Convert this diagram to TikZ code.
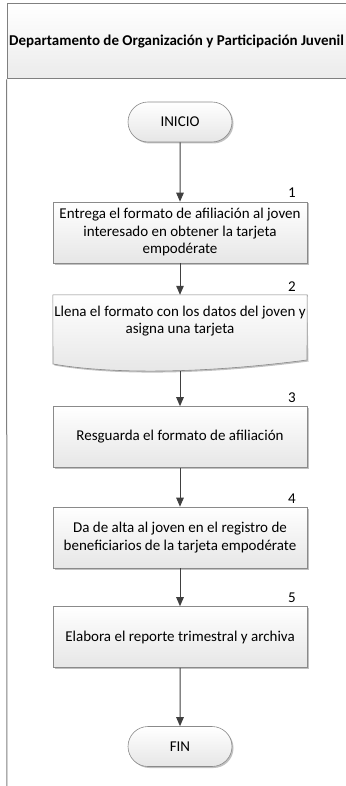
\documentclass[tikz,border=0pt]{standalone}
\usepackage{fontspec}
\setmainfont{Carlito}
\usetikzlibrary{shadows,arrows.meta,shapes.misc}
\definecolor{boxgray}{HTML}{8A8A8A}
\definecolor{fillgray}{HTML}{E6E6E6}
\definecolor{arrowgray}{HTML}{404040}
\definecolor{framegray}{HTML}{808080}
\begin{document}
\begin{tikzpicture}[x=1pt,y=-1pt,
  every node/.style={font=\fontsize{15}{17.5}\selectfont},
  shad/.style={drop shadow={shadow xshift=1.5pt,shadow yshift=-1.5pt,opacity=0.35,fill=black!70}},
  stepbox/.style={draw=boxgray,line width=0.6pt,top color=white,bottom color=fillgray,
    minimum width=254pt,minimum height=61pt,align=center,inner sep=0pt,shad},
  term/.style={rounded rectangle,draw=boxgray,line width=0.6pt,top color=white,bottom color=fillgray,
    minimum width=104pt,minimum height=40pt,inner sep=0pt,shad},
  num/.style={inner sep=0pt},
  conn/.style={draw=arrowgray,line width=1pt,-{Triangle[length=9pt,width=7.5pt]}}]
\useasboundingbox (0,0) rectangle (345,786);
% header and lane
\node[draw=framegray,line width=1pt,top color=white,bottom color=fillgray!80,
  minimum width=339pt,minimum height=75pt,inner sep=0pt,
  font=\fontsize{15}{17}\selectfont\bfseries] (hdr) at (176.5,41.5)
  {Departamento de Organización y Participación Juvenil};
\coordinate (laneend) at (7,790);
\draw[framegray,line width=1pt] (hdr.south west) -- (laneend);
% nodes
\node[term] (start) at (180,122) {INICIO};
\node[stepbox] (s1) at (180,232.5) {Entrega el formato de afiliación al joven\\interesado en obtener la tarjeta\\empodérate};
\node[num] (l1) at (292,192.5) {1};
% document shape
\node[minimum width=254pt,minimum height=69pt,inner sep=0pt,align=center,text depth=0pt] (s2) at (180,329.5) {};
\fill[black!70,opacity=0.35,shift={(1.5,1.5)}] (s2.north west) -- (s2.north east) -- (307,360)
  .. controls (200,374) and (110,374) .. (53,364) -- cycle;
\draw[boxgray,line width=0.6pt,top color=white,bottom color=fillgray] (s2.north west) -- (s2.north east) -- (307,360)
  .. controls (200,374) and (110,374) .. (53,364) -- cycle;
\node[align=center] (s2t) at (180,321) {Llena el formato con los datos del joven y\\asigna una tarjeta};
\coordinate (s2b) at (180,370.6);
\node[num] (l2) at (292,287) {2};
\node[stepbox] (s3) at (180,437) {Resguarda el formato de afiliación};
\node[num] (l3) at (292,398) {3};
\node[stepbox] (s4) at (180,537.5) {Da de alta al joven en el registro de\\beneficiarios de la tarjeta empodérate};
\node[num] (l4) at (292,499) {4};
\node[stepbox] (s5) at (180,637) {Elabora el reporte trimestral y archiva};
\node[num] (l5) at (292,598) {5};
\node[term] (fin) at (180,746.5) {FIN};
% connectors
\draw[conn] (start) -- (s1);
\draw[conn] (s1) -- (s2.north);
\draw[conn] (s2b) -- (s3);
\draw[conn] (s3) -- (s4);
\draw[conn] (s4) -- (s5);
\draw[conn] (s5) -- (fin);
\end{tikzpicture}
\end{document}
